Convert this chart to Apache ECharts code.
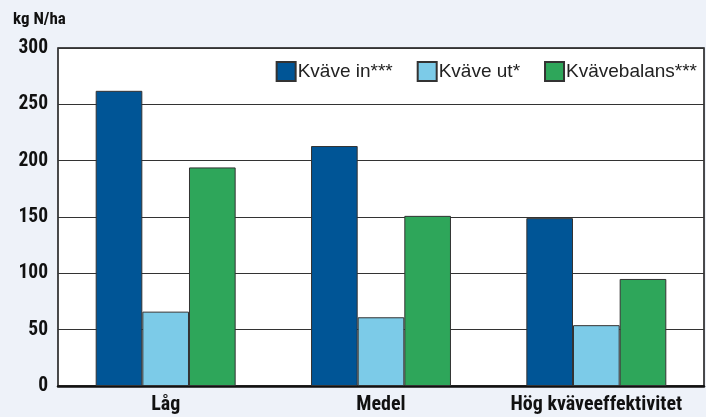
<!DOCTYPE html>
<html>
<head>
<meta charset="utf-8">
<script src="https://cdn.jsdelivr.net/npm/echarts@6/dist/echarts.min.js"></script>
<style>
html,body{margin:0;padding:0;background:#eef2f9;}
#chart{width:706px;height:417px;}
</style>
</head>
<body>
<div id="chart"></div>
<script>
const categories = ['Låg', 'Medel', 'Hög kväveeffektivitet'];
const kvaveIn = [262, 213, 149];
const kvaveUt = [66, 61, 54];
const kvavebalans = [194, 151, 95];
const yTicks = [0, 50, 100, 150, 200, 250, 300];

const narrow = "'Roboto Condensed', 'Liberation Sans Narrow', 'Arial Narrow', 'DejaVu Sans Condensed', sans-serif";
const chart = echarts.init(document.getElementById('chart'));
const barBorder = {borderColor: '#333', borderWidth: 1};
chart.setOption({
  backgroundColor: '#eef2f9',
  animation: false,
  title: {
    text: 'kg N/ha', left: 8, top: 6,
    textStyle: {fontFamily: narrow, fontWeight: 'bold', fontSize: 17, color: '#111'}
  },
  legend: {
    right: 4, top: 56,
    itemWidth: 19, itemHeight: 19, itemGap: 24,
    icon: 'rect',
    textStyle: {fontFamily: "'Liberation Sans', Arial, sans-serif", fontSize: 19, color: '#222', padding: [0,0,0,-3]},
    data: ['Kväve in***', 'Kväve ut*', 'Kvävebalans***']
  },
  grid: {
    left: 58, right: 2, top: 48, bottom: 31,
    show: true, backgroundColor: '#fff', borderColor: '#111', borderWidth: 1.5
  },
  xAxis: {
    type: 'category', data: categories,
    axisTick: {show: false},
    axisLine: {lineStyle: {color: '#111', width: 2.5}},
    axisLabel: {interval: 0, fontFamily: narrow, fontWeight: 'bold', fontSize: 20, color: '#111', margin: 9}
  },
  yAxis: {
    type: 'value', min: yTicks[0], max: yTicks[yTicks.length-1], interval: 50,
    axisLine: {show: false}, axisTick: {show: false},
    splitLine: {lineStyle: {color: '#333', width: 1.2}},
    axisLabel: {fontFamily: narrow, fontWeight: 'bold', fontSize: 19.5, color: '#111', margin: 10}
  },
  series: [
    {name: 'Kväve in***', type: 'bar', data: kvaveIn, barGap: '0%', barCategoryGap: '35%',
     itemStyle: Object.assign({color: '#005596'}, barBorder)},
    {name: 'Kväve ut*', type: 'bar', data: kvaveUt,
     itemStyle: Object.assign({color: '#7ccbe8'}, barBorder)},
    {name: 'Kvävebalans***', type: 'bar', data: kvavebalans,
     itemStyle: Object.assign({color: '#2ea65a'}, barBorder)}
  ]
});
</script>
</body>
</html>
